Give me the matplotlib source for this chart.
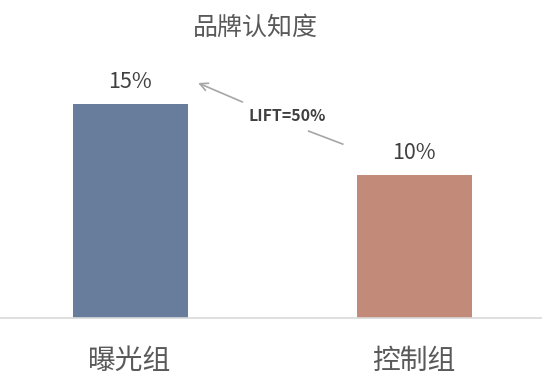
import matplotlib
matplotlib.use("Agg")
import matplotlib.pyplot as plt

plt.rcParams["font.family"] = ["Noto Sans CJK SC", "DejaVu Sans"]

groups = ["曝光组", "控制组"]
awareness = [15, 10]
labels = ["15%", "10%"]
colors = ["#687d9b", "#c28a78"]
title = "品牌认知度"
lift_text = "LIFT=50%"

W, H = 542, 380
fig = plt.figure(figsize=(W / 100, H / 100), dpi=100)
# axes spans full width; baseline at y=318px, top at y=40px
ax = fig.add_axes([0, (H - 318) / H, 1, (318 - 40) / H])
px_per_pct = 214 / 15.0
ax.set_ylim(0, (318 - 40) / px_per_pct)
ax.set_xlim(-130 / 284, 1 + (542 - 414) / 284)

x = range(len(groups))
ax.bar(x, awareness, width=115 / 284, color=colors, zorder=2)
for xi, v, lab in zip(x, awareness, labels):
    ax.text(xi, v + 0.8, lab, ha="center", va="bottom", fontsize=15.5,
            color="#404040")

for s in ["top", "left", "right"]:
    ax.spines[s].set_visible(False)
ax.spines["bottom"].set_color("#d9d9d9")
ax.spines["bottom"].set_linewidth(1.2)
ax.set_yticks([])
ax.set_xticks(list(x))
ax.set_xticklabels(groups, fontsize=20, color="#595959")
ax.tick_params(axis="x", length=0, pad=20)

fig.text(255 / W, 1 - 28 / H, title, ha="center", va="center", fontsize=18,
         color="#595959")

# lift arrow: from the control label towards the exposed label, broken by the text
ax.annotate("", xy=(0.240, 16.47), xytext=(0.396, 15.14),
            arrowprops=dict(arrowstyle="->", color="#a6a6a6", lw=1.2,
                            shrinkA=0, shrinkB=0, mutation_scale=14))
ax.plot([0.629, 0.749], [13.1, 12.19], color="#a6a6a6", lw=1.2)
ax.text(0.555, 14.16, lift_text, ha="center", va="center", fontsize=11.4,
        fontweight="bold", color="#404040")

fig.savefig("out.png", dpi=100)
